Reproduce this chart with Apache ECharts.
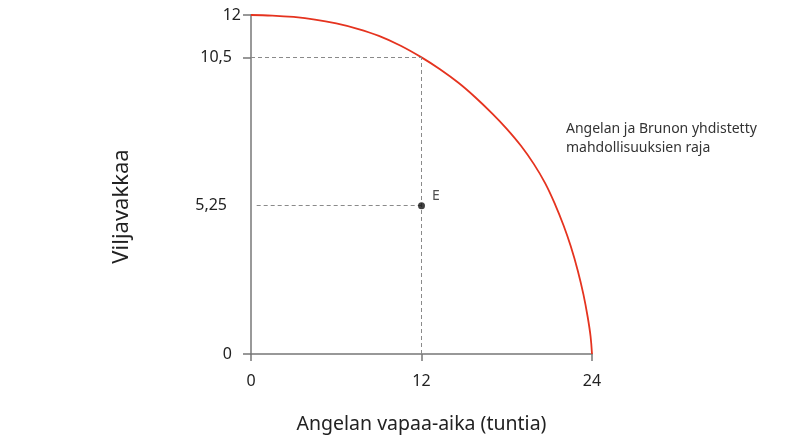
<!DOCTYPE html>
<html>
<head>
<meta charset="utf-8">
<script src="https://cdn.jsdelivr.net/npm/echarts@6/dist/echarts.min.js"></script>
<style>html,body{margin:0;padding:0;background:#fff}#c{width:810px;height:439px}</style>
</head>
<body>
<div id="c"></div>
<script>
var frontierX = [0, 1.5, 3, 4.5, 6, 7.5, 9, 10.5, 12, 13.3, 14.6, 15.8, 17, 18, 19, 19.9, 20.7, 21.4, 22, 22.5, 23, 23.4, 23.7, 23.9, 24];
var frontierY = [12, 11.98, 11.93, 11.84, 11.7, 11.51, 11.26, 10.92, 10.5, 10.08, 9.6, 9.08, 8.5, 7.97, 7.37, 6.73, 6.05, 5.3, 4.55, 3.82, 2.95, 2.1, 1.3, 0.62, 0];
var xTicks = [0, 12, 24];
var yTicks = [0, 5.25, 10.5, 12];
var yTickMarks = [0, 10.5, 12];
var pointE = [12, 5.25];
var pointLabel = 'E';
var xName = 'Angelan vapaa-aika (tuntia)';
var yName = 'Viljavakkaa';
var curveLabel = 'Angelan ja Brunon yhdistetty\nmahdollisuuksien raja';

var font = 'Noto Sans';
var chart = echarts.init(document.getElementById('c'), null, {renderer: 'canvas'});
var dash = {color: '#8a8a8a', width: 1, type: [4, 3]};
function fmt(v){ return String(v).replace('.', ','); }
function yFmt(v){
  if (v === 12) return '{t|' + fmt(v) + '}';
  if (v === 5.25) return '{f|' + fmt(v) + '}';
  return '{n|' + fmt(v) + '}';
}
var lab = {fontFamily: font, fontSize: 16, color: '#222'};

chart.setOption({
  animation: false,
  grid: {left: 251, right: 218, top: 15, bottom: 83, containLabel: false},
  xAxis: {
    type: 'value', min: 0, max: 24,
    name: xName, nameLocation: 'middle', nameGap: 60,
    nameTextStyle: {fontFamily: font, fontSize: 19.5, color: '#222'},
    axisLine: {show: true, lineStyle: {color: '#777', width: 1.5}},
    axisTick: {show: true, customValues: xTicks, length: 7, lineStyle: {color: '#777', width: 1.5}},
    axisLabel: {customValues: xTicks, fontFamily: font, fontSize: 16, color: '#222', margin: 19, formatter: fmt},
    splitLine: {show: false}
  },
  yAxis: {
    type: 'value', min: 0, max: 12,
    name: yName, nameLocation: 'middle', nameGap: 118, nameRotate: 90,
    nameTextStyle: {fontFamily: font, fontSize: 22, color: '#222', padding: [0, 44, 0, 0]},
    axisLine: {show: true, lineStyle: {color: '#777', width: 1.5}},
    axisTick: {show: true, customValues: yTickMarks, length: 8, lineStyle: {color: '#777', width: 1.5}},
    axisLabel: {customValues: yTicks, margin: 10, formatter: yFmt,
      rich: {
        t: Object.assign({}, lab),
        n: Object.assign({padding: [0, 9, 0, 0]}, lab),
        f: Object.assign({padding: [0, 14, 0, 0]}, lab)
      }},
    splitLine: {show: false}
  },
  series: [
    {
      type: 'line', data: frontierX.map(function(x, i){ return [x, frontierY[i]]; }),
      smooth: 0.4, showSymbol: false, symbol: 'none',
      lineStyle: {color: '#e5331f', width: 1.8}, z: 3,
      markLine: {
        silent: true, symbol: 'none', label: {show: false},
        lineStyle: dash,
        data: [
          [{coord: [0, 10.5]}, {coord: [12, 10.5]}],
          [{coord: [0.4, 5.25]}, {coord: [12, 5.25]}],
          [{coord: [12, 0]}, {coord: [12, 10.5]}]
        ]
      }
    },
    {
      type: 'scatter', data: [pointE], symbolSize: 7,
      itemStyle: {color: '#111'}, z: 5,
      label: {show: true, formatter: pointLabel, position: 'right', offset: [2, -10],
        fontFamily: font, fontSize: 14, color: '#222'}
    }
  ],
  graphic: [
    {type: 'text', left: 566, top: 120,
      style: {text: curveLabel, fontFamily: font, fontSize: 14, lineHeight: 19, fill: '#333'}}
  ]
});
</script>
</body>
</html>
